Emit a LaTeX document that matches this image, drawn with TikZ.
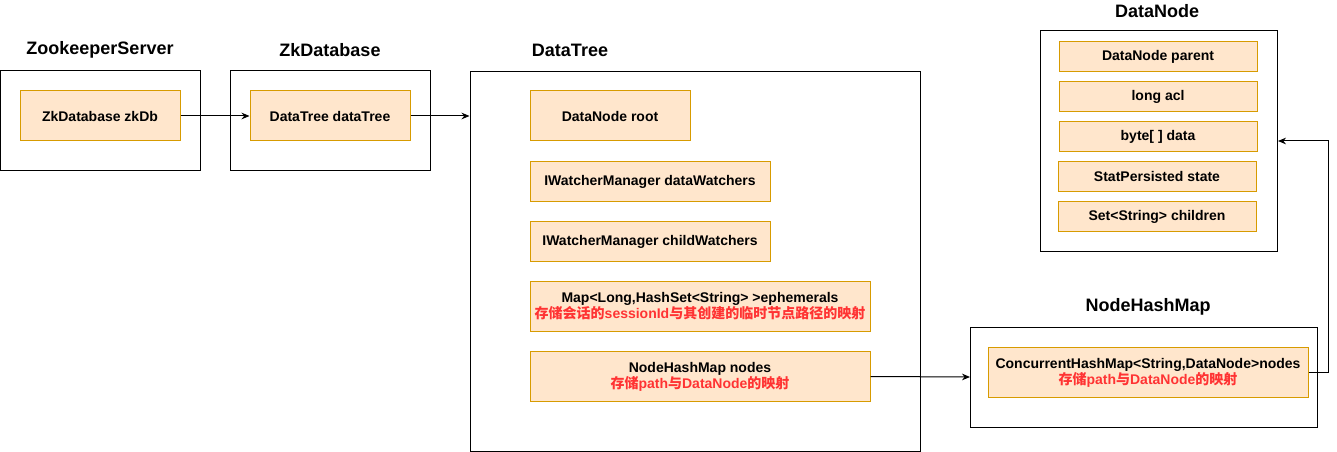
\documentclass[tikz,border=0pt]{standalone}
\usepackage{fontspec}
\setmainfont{Liberation Sans}
\newfontfamily\cjk{Noto Sans CJK SC}
\usetikzlibrary{arrows.meta}

\definecolor{fieldfill}{HTML}{FFE6CC}
\definecolor{fieldline}{HTML}{D79B00}
\definecolor{notered}{HTML}{FF3333}

\newcommand{\note}[1]{\\\textcolor{notered}{#1}}

\begin{document}
\begin{tikzpicture}[x=0.75pt, y=-0.75pt, line width=0.75pt,
    >={Stealth[length=6pt,width=5pt]},
    every node/.style={font=\bfseries\fontsize{10.5}{12}\selectfont},
    frame/.style={draw, inner sep=0pt},
    field/.style={draw=fieldline, fill=fieldfill, align=center, inner sep=1pt},
    title/.style={font=\bfseries\fontsize{13.5}{15}\selectfont}]
      \useasboundingbox (0,0) rectangle (1337,452);

      % ZookeeperServer
      \node[title] (zstitle) at (100,50) {ZookeeperServer};
      \node[frame, minimum width=150pt, minimum height=75pt] (zs) at (100,121) {};
      \node[field, minimum width=120pt, minimum height=37.5pt] (zkdb) at (100,116) {ZkDatabase zkDb};

      % ZkDatabase
      \node[title] (zdtitle) at (330,50) {ZkDatabase};
      \node[frame, minimum width=150pt, minimum height=75pt] (zd) at (330,121) {};
      \node[field, minimum width=120pt, minimum height=37.5pt] (datatree) at (330,116) {DataTree dataTree};

      % DataTree
      \node[title] (dttitle) at (570,50) {DataTree};
      \node[frame, minimum width=337.5pt, minimum height=285pt] (dt) at (695,261.5) {};
      \node[field, minimum width=120pt, minimum height=37.5pt] (root) at (610,116) {DataNode root};
      \node[field, minimum width=180pt, minimum height=30pt] (datawatch) at (650,181.5) {IWatcherManager dataWatchers};
      \node[field, minimum width=180pt, minimum height=30pt] (childwatch) at (650,241.5) {IWatcherManager childWatchers};
      \node[field, minimum width=255pt, minimum height=37.5pt] (ephem) at (700,306.5)
        {Map<Long,HashSet<String> >ephemerals\note{{\cjk 存储会话的}sessionId{\cjk 与其创建的临时节点路径的映射}}};
      \node[field, minimum width=255pt, minimum height=37.5pt] (nodes) at (700,376.5)
        {NodeHashMap nodes\note{{\cjk 存储}path{\cjk 与}DataNode{\cjk 的映射}}};

      % NodeHashMap
      \node[title] (nhmtitle) at (1148,307) {NodeHashMap};
      \node[frame, minimum width=260.25pt, minimum height=75pt] (nhm) at (1144,377) {};
      \node[field, minimum width=240pt, minimum height=37.5pt] (chm) at (1148,372.5)
        {ConcurrentHashMap<String,DataNode>nodes\note{{\cjk 存储}path{\cjk 与}DataNode{\cjk 的映射}}};

      % DataNode
      \node[title] (dntitle) at (1157,11) {DataNode};
      \node[frame, minimum width=177.75pt, minimum height=165pt] (dn) at (1159,141) {};
      \node[field, minimum width=148.5pt, minimum height=22.5pt] (parent) at (1158,56.5) {DataNode parent};
      \node[field, minimum width=148.5pt, minimum height=22.5pt] (acl) at (1158,96.5) {long acl};
      \node[field, minimum width=148.5pt, minimum height=22.5pt] (data) at (1158,136.5) {byte[ ] data};
      \node[field, minimum width=148.5pt, minimum height=22.5pt] (state) at (1157,176.5) {StatPersisted state};
      \node[field, minimum width=148.5pt, minimum height=22.5pt] (children) at (1157,216.5) {Set<String> children};

      \coordinate (bend) at (1328,141);

      \draw[->] (zkdb)  -- (datatree.west);
      \draw[->] (datatree) -- (dt.west |- datatree.east);
      \draw[->] (nodes.east) -- (nhm.west);
      \draw[->] (chm.east) -| (bend) -- (dn.east);
    \end{tikzpicture}
\end{document}
